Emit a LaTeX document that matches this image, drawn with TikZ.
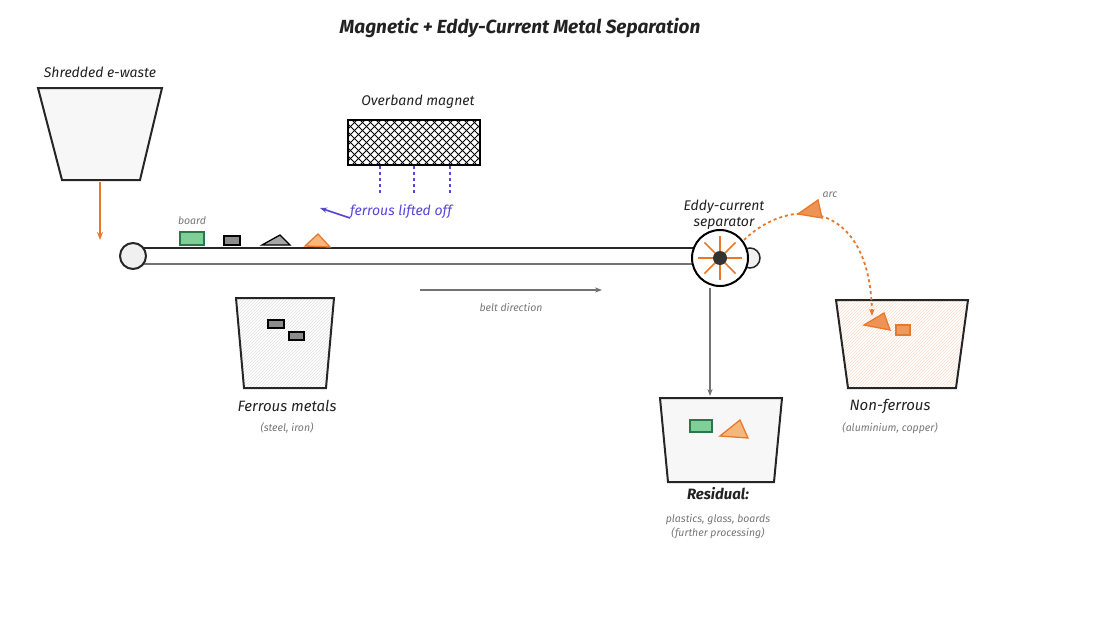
\documentclass[tikz,border=0pt]{standalone}
\usepackage{fontspec}
\setmainfont{Fira Sans}
\usetikzlibrary{arrows.meta,patterns}
\definecolor{og}{HTML}{E8782A}
\definecolor{ogf}{HTML}{F5B87A}
\definecolor{bl}{HTML}{5646D8}
\definecolor{gr}{HTML}{3FA868}
\definecolor{grf}{HTML}{7FCF98}
\definecolor{tx}{HTML}{222222}
\definecolor{sub}{HTML}{777777}
\begin{document}
\begin{tikzpicture}[x=1pt,y=-1pt,
 lbl/.style={font=\itshape\fontsize{14}{16}\selectfont,text=tx},
 sml/.style={font=\itshape\fontsize{10.5}{14}\selectfont,text=sub},
 bin/.style={draw=black!85,line width=2pt,fill=black!3},
 item/.style={draw=black,line width=1.3pt}]
\useasboundingbox (0,0) rectangle (1120,640);
\node[font=\bfseries\itshape\fontsize{19}{22}\selectfont,text=tx] (title) at (520,28) {Magnetic + Eddy-Current Metal Separation};
% hopper
\draw[bin] (38,88) -- (162,88) -- (140,180) -- (62,180) -- cycle;
\node[lbl] (hl) at (100,72) {Shredded e-waste};
\coordinate (hb) at (100,182); \coordinate (ht) at (100,240);
\draw[og,line width=1.8pt,-{Stealth[length=8pt]}] (hb) -- (ht);
% belt
\coordinate (b1) at (133,248); \coordinate (b2) at (700,248);
\coordinate (b3) at (133,264); \coordinate (b4) at (700,264);
\draw[line width=2.4pt,black!85] (b1) -- (b2);
\draw[line width=1.5pt,black!55] (b3) -- (b4);
\node[circle,draw=black!85,line width=2pt,fill=black!6,minimum size=26pt,inner sep=0] (roll) at (133,256) {};
% items
\draw[item,draw=gr!70!black,fill=grf] (180,232) rectangle (204,245);
\node[sml] (bd) at (192,221) {board};
\draw[item,fill=black!45] (224,236) rectangle (240,245);
\draw[item,fill=black!35] (262,245) -- (280,235) -- (290,245) -- cycle;
\draw[item,draw=og,fill=ogf] (305,246) -- (318,234) -- (330,247) -- cycle;
% magnet
\node[draw=black,line width=2pt,fill=white,minimum width=132pt,minimum height=45pt,inner sep=0] (mag) at (414,142) {};
\begin{scope}
\clip (348,120) rectangle (480,165);
\foreach \i in {-60,-52,...,180} {
 \draw[line width=0.8pt] (348+\i,120) -- ++(45,45);
 \draw[line width=0.8pt] (348+\i+45,120) -- ++(-45,45);
}
\end{scope}
\draw[line width=2pt] (348,120) rectangle (480,165);
\node[lbl] (ml) at (418,102) {Overband magnet};
\foreach \x in {380,414,450} \draw[bl,dashed,line width=1.2pt] (\x,166) -- (\x,194);
\coordinate (fa) at (350,218); \coordinate (fb) at (320,208);
\draw[bl,line width=1.6pt,-{Stealth[length=7pt]}] (fa) -- (fb);
\node[lbl,text=bl] (fl) at (401,212) {ferrous lifted off};
% belt direction
\coordinate (d1) at (420,290); \coordinate (d2) at (602,290);
\draw[black!55,line width=1.5pt,-{Stealth[length=7pt]}] (d1) -- (d2);
\node[sml] (dl) at (511,307) {belt direction};
% ferrous bin
\draw[bin,pattern=north east lines,pattern color=black!12] (236,298) -- (334,298) -- (326,388) -- (244,388) -- cycle;
\draw[item,fill=black!45] (268,320) rectangle (284,328);
\draw[item,fill=black!45] (289,332) rectangle (304,340);
\node[lbl,font=\itshape\fontsize{15}{17}\selectfont] (fml) at (287,406) {Ferrous metals};
\node[sml] (fms) at (287,428) {(steel, iron)};
% separator
\node[circle,draw=black!85,line width=1.5pt,fill=black!6,minimum size=20pt] (aux) at (750,258) {};
\node[circle,draw=black,line width=2pt,fill=white,minimum size=56pt,inner sep=0] (sep) at (720,258) {};
\foreach \a in {0,45,...,315} \draw[og,line width=1.6pt] (720,258) -- ++(\a:22);
\node[circle,fill=black!80,minimum size=14pt,inner sep=0] (hub) at (720,258) {};
\node[lbl,align=center] (sl) at (724,215) {Eddy-current\\separator};
\coordinate (s1) at (710,288); \coordinate (s2) at (710,396);
\draw[black!55,line width=1.5pt,-{Stealth[length=7pt]}] (s1) -- (s2);
% residual bin
\draw[bin] (660,398) -- (782,398) -- (774,482) -- (668,482) -- cycle;
\draw[item,draw=gr!70!black,fill=grf] (690,420) rectangle (712,432);
\draw[item,draw=og,fill=ogf] (720,436) -- (740,420) -- (748,438) -- cycle;
\node[lbl,font=\bfseries\itshape\fontsize{15}{17}\selectfont] (rl) at (718,494) {Residual:};
\node[sml,align=center] (rs) at (718,527) {plastics, glass, boards\\(further processing)};
% non-ferrous bin
\draw[bin,pattern=north east lines,pattern color=og!25] (836,300) -- (968,300) -- (956,388) -- (848,388) -- cycle;
\draw[item,draw=og,fill=og!80] (864,325) -- (884,313) -- (890,330) -- cycle;
\draw[item,draw=og,fill=og!75] (896,325) rectangle (910,335);
\node[lbl,font=\itshape\fontsize{15}{17}\selectfont] (nl) at (890,406) {Non-ferrous};
\node[sml] (ns) at (890,428) {(aluminium, copper)};
% arc
\coordinate (a1) at (744,240); \coordinate (a2) at (872,316);
\draw[og,line width=1.8pt,dashed,-{Stealth[length=7pt]}] (a1) .. controls (790,195) and (870,200) .. (a2);
\draw[item,draw=og,fill=og!80] (798,214) -- (818,200) -- (822,218) -- cycle;
\node[sml] (al) at (830,195) {arc};
\end{tikzpicture}
\end{document}
